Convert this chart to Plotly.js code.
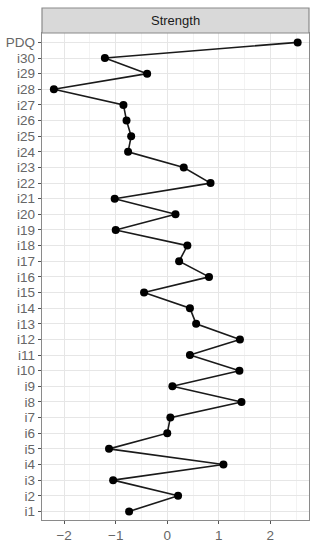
<!DOCTYPE html>
<html>
<head>
<meta charset="utf-8">
<script src="https://cdn.plot.ly/plotly-3.0.1.min.js"></script>
<style>
  html, body { margin: 0; padding: 0; background: #fff; }
  #chart { width: 323px; height: 550px; }
</style>
</head>
<body>
<div id="chart"></div>
<script>
// items from bottom to top
let items = ['i1', 'i2', 'i3', 'i4', 'i5', 'i6', 'i7', 'i8', 'i9', 'i10',
             'i11', 'i12', 'i13', 'i14', 'i15', 'i16', 'i17', 'i18', 'i19', 'i20',
             'i21', 'i22', 'i23', 'i24', 'i25', 'i26', 'i27', 'i28', 'i29', 'i30', 'PDQ'];
let strength = [-0.74, 0.21, -1.05, 1.09, -1.13, 0.00, 0.06, 1.44, 0.10, 1.40,
                0.44, 1.41, 0.56, 0.44, -0.45, 0.81, 0.23, 0.39, -1.00, 0.16,
                -1.02, 0.84, 0.32, -0.76, -0.70, -0.79, -0.85, -2.20, -0.39, -1.21, 2.53];
let xTicks = [-2, -1, 0, 1, 2];
let panelTitle = 'Strength';

let trace = {
    x: strength,
    y: items,
    mode: 'lines+markers',
    line: { color: '#1a1a1a', width: 1.6 },
    marker: { color: '#000', size: 8 },
    hoverinfo: 'x+y'
};

let layout = {
    width: 323,
    height: 550,
    margin: { l: 42, r: 14, t: 33, b: 30 },
    paper_bgcolor: '#fff',
    plot_bgcolor: '#fff',
    showlegend: false,
    font: { family: 'Liberation Sans, Arial, sans-serif', color: '#4d4d4d', size: 13 },
    xaxis: {
        range: [-2.43, 2.75],
        tickmode: 'array',
        tickvals: xTicks,
        ticks: 'outside',
        ticklen: 3,
        tickcolor: '#555',
        showgrid: true,
        gridcolor: '#e6e6e6',
        gridwidth: 1,
        minor: { dtick: 0.5, showgrid: true, gridcolor: '#f3f3f3', gridwidth: 1 },
        zeroline: false,
        showline: true,
        mirror: true,
        linecolor: '#8a8a8a',
        linewidth: 1.2,
        tickfont: { size: 13.5, color: '#666' }
    },
    yaxis: {
        type: 'category',
        categoryorder: 'array',
        categoryarray: items,
        tickmode: 'array',
        tickvals: items,
        ticktext: items,
        range: [-0.55, 30.6],
        ticks: 'outside',
        ticklen: 3,
        tickcolor: '#555',
        showgrid: true,
        gridcolor: '#e6e6e6',
        gridwidth: 1,
        zeroline: false,
        showline: true,
        mirror: true,
        linecolor: '#8a8a8a',
        linewidth: 1.2,
        tickfont: { size: 13.5, color: '#666' }
    },
    shapes: [{
        type: 'rect', xref: 'paper', yref: 'paper',
        x0: 0, x1: 1, y0: 1, y1: 1 + 25 / 487,
        fillcolor: '#d9d9d9',
        line: { color: '#8a8a8a', width: 1.2 }
    }],
    annotations: [{
        text: panelTitle,
        xref: 'paper', yref: 'paper',
        x: 0.5, y: 1 + 12.5 / 487,
        xanchor: 'center', yanchor: 'middle',
        showarrow: false,
        font: { size: 13, color: '#1a1a1a' }
    }]
};

Plotly.newPlot('chart', [trace], layout, { displayModeBar: false, staticPlot: true });
</script>
</body>
</html>
